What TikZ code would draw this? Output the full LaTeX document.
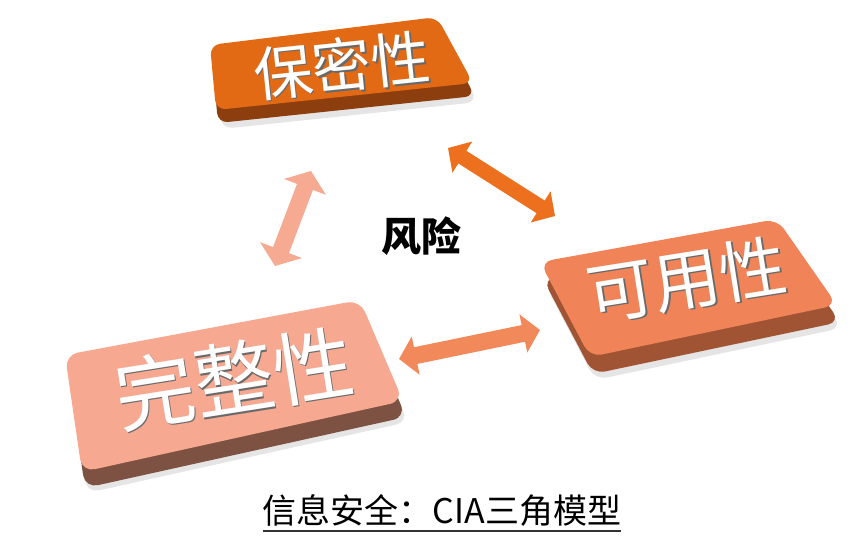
\documentclass[tikz,border=0pt]{standalone}
\usepackage{fontspec}
\newfontfamily\cjk{Noto Sans CJK SC}
\usetikzlibrary{arrows.meta,calc}
\definecolor{cTopFace}{RGB}{226,106,20}
\definecolor{cTopBand}{RGB}{140,62,14}
\definecolor{cRightFace}{RGB}{240,132,88}
\definecolor{cRightBand}{RGB}{160,84,52}
\definecolor{cLeftFace}{RGB}{247,168,145}
\definecolor{cLeftBand}{RGB}{125,82,66}
\definecolor{cArrTR}{RGB}{236,112,30}
\definecolor{cArrL}{RGB}{247,170,146}
\definecolor{cArrB}{RGB}{241,137,90}
\definecolor{cTxtShadow}{RGB}{105,105,105}
\newcommand{\embossed}[1]{\makebox[0pt][l]{\kern1.4pt\raisebox{-1.4pt}{\textcolor{cTxtShadow}{#1}}}#1}
\tikzset{
  boxtext/.style={inner sep=0pt, text=white},
  dblarrow/.style n args={4}{draw=#1, line width=#2,
    {Triangle[width=#3,length=#4]}-{Triangle[width=#3,length=#4]}},
  softshadow/.style={fill=black, opacity=0.10, rounded corners=12pt},
}
\begin{document}
\begin{tikzpicture}[x=1pt,y=-1pt]
\useasboundingbox (0,0) rectangle (851,539);
\fill[white] (0,0) rectangle (851,539);

% ---------- top box: 保密性 ----------
\coordinate (tTL) at (210,45);
\coordinate (tTR) at (437,17);
\coordinate (tBR) at (473,83);
\coordinate (tBL) at (216,110);
\fill[softshadow] ([shift={(5,19)}]tTL) -- ([shift={(5,19)}]tTR) -- ([shift={(5,19)}]tBR) -- ([shift={(5,19)}]tBL) -- cycle;
\fill[cTopBand, rounded corners=10pt] ([shift={(2,13)}]tTL) -- ([shift={(2,13)}]tTR) -- ([shift={(2,13)}]tBR) -- ([shift={(2,13)}]tBL) -- cycle;
\fill[cTopFace, rounded corners=10pt] (tTL) -- (tTR) -- (tBR) -- (tBL) -- cycle;
\node[boxtext, rotate=6, font=\cjk\fontsize{59}{59}\selectfont] (tText) at (342,66) {\embossed{保密性}};

% ---------- right box: 可用性 ----------
\coordinate (rTL) at (540,262);
\coordinate (rTR) at (777,219);
\coordinate (rBR) at (837,305);
\coordinate (rBL) at (590,357);
\fill[softshadow] ([shift={(5,23)}]rTL) -- ([shift={(5,23)}]rTR) -- ([shift={(5,23)}]rBR) -- ([shift={(5,23)}]rBL) -- cycle;
\fill[cRightBand, rounded corners=12pt] ([shift={(3,17)}]rTL) -- ([shift={(3,17)}]rTR) -- ([shift={(3,17)}]rBR) -- ([shift={(3,17)}]rBL) -- cycle;
\fill[cRightFace, rounded corners=12pt] (rTL) -- (rTR) -- (rBR) -- (rBL) -- cycle;
\node[boxtext, rotate=9, font=\cjk\fontsize{67}{67}\selectfont] (rText) at (687,280) {\embossed{可用性}};

% ---------- left box: 完整性 ----------
\coordinate (lTL) at (65,355);
\coordinate (lTR) at (360,300);
\coordinate (lBR) at (403,401);
\coordinate (lBL) at (82,472);
\fill[softshadow] ([shift={(5,21)}]lTL) -- ([shift={(5,21)}]lTR) -- ([shift={(5,21)}]lBR) -- ([shift={(5,21)}]lBL) -- cycle;
\fill[cLeftBand, rounded corners=13pt] ([shift={(3,16)}]lTL) -- ([shift={(3,16)}]lTR) -- ([shift={(3,16)}]lBR) -- ([shift={(3,16)}]lBL) -- cycle;
\fill[cLeftFace, rounded corners=13pt] (lTL) -- (lTR) -- (lBR) -- (lBL) -- cycle;
\node[boxtext, rotate=9, font=\cjk\fontsize{80}{80}\selectfont] (lText) at (234,379) {\embossed{完整性}};

% ---------- arrows ----------
\coordinate (aL1) at (275,266);
\coordinate (aL2) at (311,171);
\draw[dblarrow={cArrL}{17pt}{44pt}{17pt}] (aL1) -- (aL2);
\coordinate (aT1) at (448,148);
\coordinate (aT2) at (555,216);
\draw[dblarrow={cArrTR}{15pt}{36pt}{17pt}] (aT1) -- (aT2);
\coordinate (aB1) at (399,359);
\coordinate (aB2) at (540,330);
\draw[dblarrow={cArrB}{17pt}{38pt}{17pt}] (aB1) -- (aB2);

% ---------- centre label ----------
\node[inner sep=0pt, font=\cjk\bfseries\fontsize{40}{40}\selectfont] (risk) at (421,236) {风险};

% ---------- caption ----------
\node[inner sep=0pt, font=\cjk\fontsize{34}{34}\selectfont, text=black] (cap) at (442,511) {信息安全：CIA三角模型};
\draw[line width=1.5pt, black!80] ([yshift=-7pt]cap.base west) -- ([yshift=-7pt]cap.base east);
\end{tikzpicture}
\end{document}
